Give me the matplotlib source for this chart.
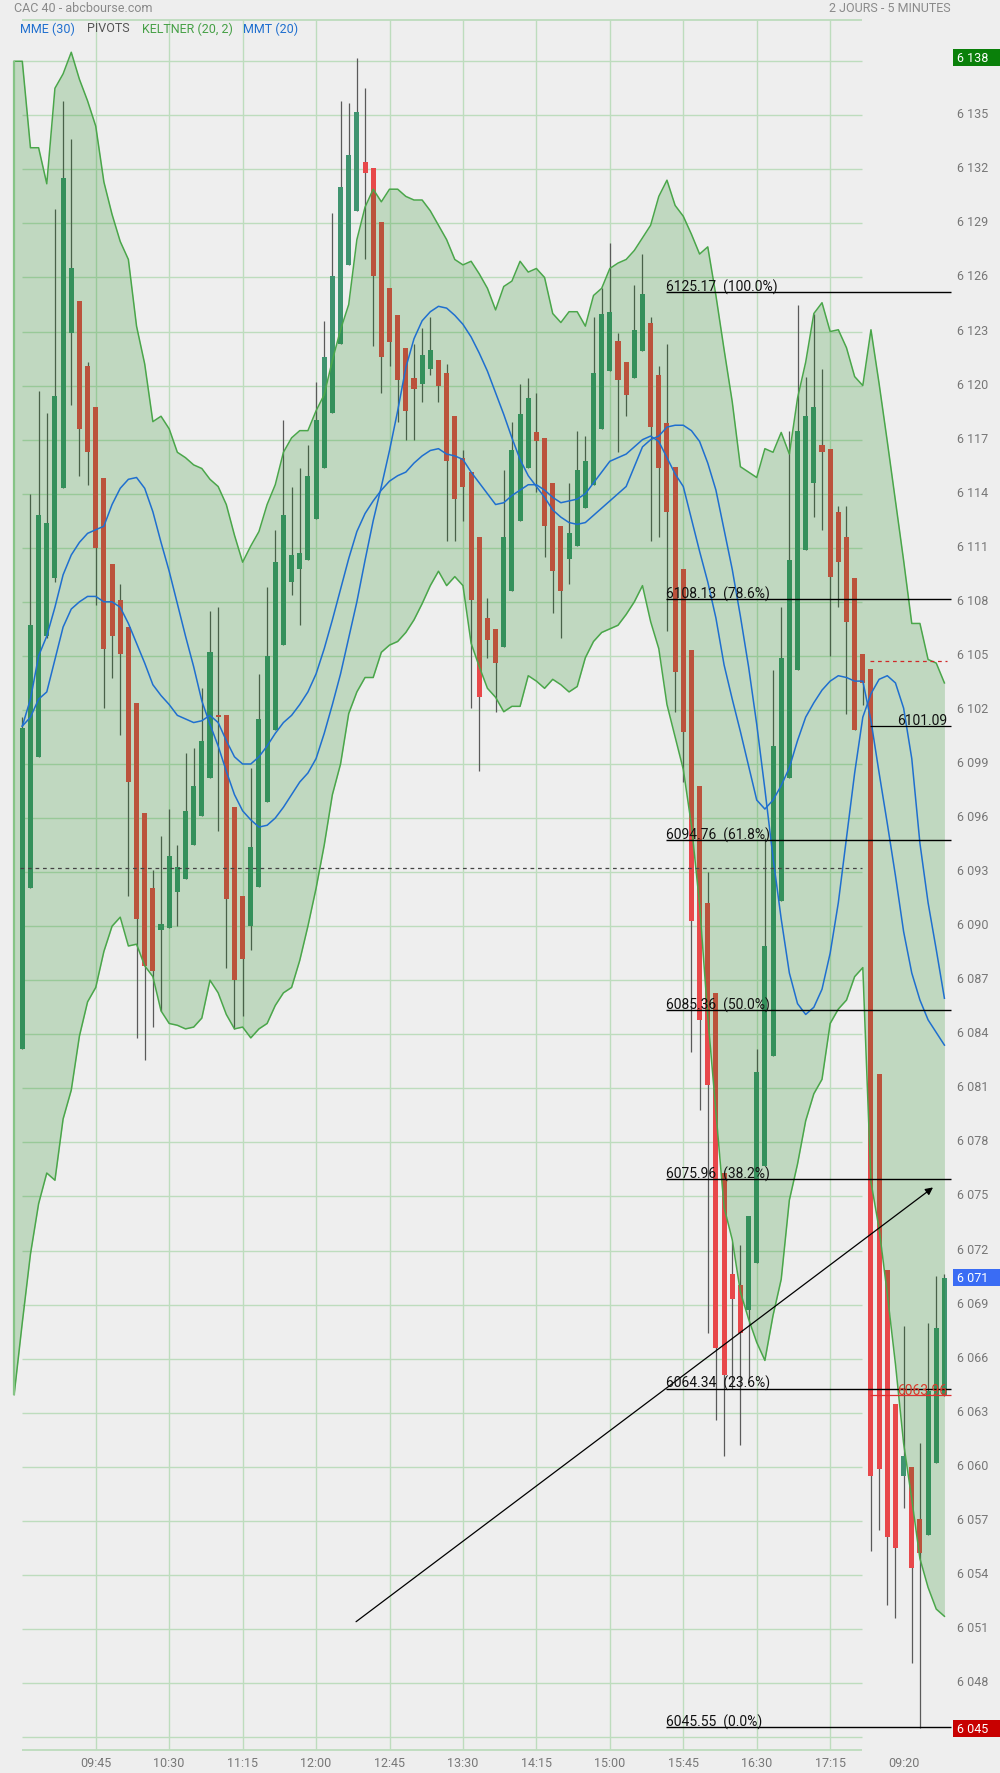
import numpy as np
import matplotlib
matplotlib.use("Agg")
import matplotlib.pyplot as plt
from matplotlib.patches import Rectangle
from matplotlib.transforms import blended_transform_factory, ScaledTranslation

plt.rcParams['font.family'] = ['Roboto', 'DejaVu Sans']
NARROW = ['Liberation Sans Narrow', 'Roboto', 'DejaVu Sans']

# bougies 5 minutes : jour 1 de 09:00 a 17:35, jour 2 de 09:00 a 09:45
opens = [6083.2, 6092.1, 6099.4, 6106.1, 6109.3, 6114.3, 6122.9, 6124.7, 6121.1, 6118.8,
         6114.9, 6110.1, 6108.1, 6106.6, 6102.4, 6096.3, 6092.1, 6089.8, 6089.9, 6091.9,
         6092.6, 6094.5, 6096.1, 6098.2, 6101.7, 6101.7, 6096.6, 6091.7, 6090.0, 6092.2,
         6096.9, 6100.9, 6105.6, 6109.1, 6109.8, 6110.3, 6112.6, 6115.4, 6118.5, 6122.3,
         6126.7, 6129.7, 6132.4, 6132.1, 6129.1, 6125.4, 6123.9, 6122.1, 6120.4, 6120.1,
         6120.9, 6121.4, 6120.7, 6118.3, 6116.0, 6115.2, 6111.6, 6107.1, 6106.5, 6105.5,
         6108.6, 6112.5, 6115.4, 6117.4, 6117.1, 6114.6, 6112.2, 6110.4, 6111.1, 6113.2,
         6114.5, 6117.6, 6120.8, 6122.5, 6121.3, 6120.4, 6121.9, 6123.5, 6120.6, 6117.9,
         6115.5, 6109.8, 6105.3, 6097.8, 6091.3, 6086.3, 6076.3, 6070.7, 6070.1, 6068.7,
         6071.3, 6076.7, 6082.8, 6091.4, 6098.2, 6104.2, 6110.9, 6114.6, 6116.7, 6116.5,
         6113.0, 6111.6, 6109.3, 6105.1, 6104.3, 6081.8, 6070.9, 6063.5, 6059.5, 6060.0,
         6057.1, 6056.2, 6060.2, 6063.9]
highs = [6101.6, 6114.0, 6119.7, 6118.5, 6129.8, 6135.8, 6133.7, 6124.7, 6121.3, 6118.8,
         6114.9, 6110.1, 6109.0, 6106.6, 6102.4, 6096.3, 6093.1, 6095.0, 6096.5, 6094.5,
         6099.6, 6099.9, 6103.2, 6107.5, 6107.7, 6101.7, 6096.6, 6091.7, 6098.8, 6104.0,
         6108.8, 6112.0, 6118.1, 6114.4, 6115.4, 6116.7, 6120.2, 6123.6, 6129.6, 6135.8,
         6135.7, 6138.2, 6136.5, 6132.1, 6129.1, 6125.4, 6123.9, 6122.1, 6122.3, 6123.2,
         6123.8, 6121.4, 6121.2, 6118.3, 6116.4, 6115.2, 6111.6, 6108.2, 6106.5, 6115.3,
         6118.0, 6120.1, 6120.4, 6119.6, 6117.1, 6114.6, 6112.2, 6114.6, 6117.5, 6117.2,
         6123.8, 6125.4, 6127.9, 6122.9, 6121.3, 6125.6, 6127.3, 6123.8, 6121.1, 6122.3,
         6115.5, 6109.8, 6105.3, 6097.8, 6093.0, 6086.3, 6076.3, 6072.5, 6072.3, 6073.9,
         6083.2, 6094.9, 6104.2, 6107.7, 6117.5, 6124.5, 6120.5, 6124.0, 6120.9, 6116.5,
         6113.3, 6113.3, 6109.3, 6105.1, 6104.3, 6081.8, 6070.9, 6063.5, 6067.8, 6060.0,
         6061.3, 6068.0, 6070.6, 6070.7]
lows = [6083.2, 6092.1, 6099.4, 6106.0, 6109.1, 6114.3, 6118.9, 6115.0, 6114.5, 6107.8,
        6102.1, 6103.8, 6100.6, 6091.7, 6083.8, 6082.6, 6084.4, 6085.3, 6089.9, 6090.0,
        6092.6, 6094.5, 6096.1, 6098.2, 6095.3, 6087.7, 6084.3, 6085.0, 6088.7, 6092.2,
        6096.9, 6100.9, 6105.6, 6108.4, 6106.7, 6110.3, 6112.6, 6115.4, 6118.5, 6122.3,
        6126.7, 6129.7, 6127.0, 6122.2, 6119.6, 6121.1, 6118.0, 6117.0, 6117.0, 6119.1,
        6120.6, 6119.1, 6111.4, 6111.4, 6112.5, 6102.1, 6098.6, 6104.9, 6101.9, 6105.5,
        6108.6, 6112.5, 6115.4, 6114.1, 6110.5, 6107.4, 6106.0, 6109.0, 6111.1, 6113.2,
        6114.5, 6117.6, 6120.8, 6116.3, 6118.3, 6120.4, 6121.9, 6111.4, 6111.6, 6106.4,
        6101.9, 6098.0, 6083.0, 6079.8, 6067.4, 6062.6, 6060.6, 6064.3, 6061.2, 6064.9,
        6071.3, 6076.7, 6082.8, 6091.4, 6098.2, 6104.2, 6110.9, 6112.7, 6112.0, 6105.0,
        6107.7, 6101.8, 6100.9, 6102.3, 6055.3, 6056.5, 6052.3, 6051.6, 6057.7, 6049.1,
        6045.5, 6056.2, 6060.2, 6063.9]
closes = [6101.0, 6106.7, 6112.8, 6112.4, 6119.4, 6131.5, 6126.5, 6117.6, 6116.3, 6111.0,
          6105.4, 6106.1, 6105.1, 6098.0, 6090.4, 6087.8, 6087.5, 6090.1, 6093.9, 6093.3,
          6096.4, 6097.8, 6100.3, 6105.2, 6101.6, 6091.5, 6087.0, 6088.2, 6094.4, 6101.5,
          6105.0, 6110.2, 6112.8, 6110.6, 6110.7, 6115.0, 6118.1, 6121.6, 6126.1, 6131.0,
          6132.8, 6135.2, 6131.8, 6126.1, 6121.6, 6122.4, 6120.3, 6118.6, 6119.8, 6121.7,
          6122.0, 6120.0, 6115.8, 6113.7, 6114.4, 6108.1, 6102.7, 6105.9, 6104.6, 6111.6,
          6116.4, 6118.4, 6119.3, 6116.9, 6112.2, 6109.7, 6108.6, 6111.8, 6115.3, 6115.8,
          6120.7, 6124.0, 6124.1, 6120.3, 6119.5, 6123.1, 6125.1, 6117.7, 6115.4, 6113.0,
          6104.1, 6100.8, 6090.3, 6084.8, 6081.2, 6066.6, 6065.1, 6069.3, 6067.4, 6073.9,
          6081.9, 6088.9, 6100.0, 6104.9, 6110.3, 6117.5, 6118.3, 6118.8, 6116.3, 6109.4,
          6110.2, 6106.9, 6100.9, 6103.5, 6059.5, 6059.9, 6056.1, 6055.5, 6060.6, 6054.4,
          6055.2, 6064.2, 6067.7, 6070.5]

# Keltner (20, 2) : le canal commence une bougie avant la premiere
kelt_up = [6138.0, 6138.0, 6133.2, 6133.2, 6131.2, 6136.5, 6137.3, 6138.5, 6137.0, 6135.8,
           6134.4, 6131.3, 6129.5, 6128.0, 6127.0, 6123.3, 6121.2, 6118.0, 6118.3, 6117.6,
           6116.3, 6116.0, 6115.6, 6115.4, 6114.8, 6114.4, 6113.4, 6111.7, 6110.2, 6111.1,
           6111.9, 6113.4, 6114.5, 6116.3, 6117.1, 6117.5, 6117.5, 6118.6, 6119.5, 6121.4,
           6123.1, 6124.5, 6128.1, 6129.9, 6130.9, 6130.2, 6130.9, 6130.9, 6130.5, 6130.3,
           6130.3, 6129.7, 6128.9, 6128.1, 6127.0, 6126.7, 6126.9, 6126.2, 6125.4, 6124.2,
           6125.5, 6125.8, 6126.9, 6126.3, 6126.5, 6126.0, 6124.0, 6123.5, 6124.1, 6124.1,
           6123.3, 6125.0, 6125.4, 6126.5, 6126.8, 6127.0, 6127.5, 6128.2, 6128.9, 6130.5,
           6131.4, 6130.0, 6129.4, 6128.4, 6127.3, 6127.7, 6125.0, 6122.0, 6119.1, 6115.5,
           6115.2, 6114.9, 6116.5, 6116.3, 6117.4, 6116.2, 6119.3, 6121.3, 6124.0, 6124.6,
           6123.0, 6123.1, 6122.1, 6120.5, 6120.0, 6123.1, 6120.1, 6116.9, 6113.6, 6110.3,
           6106.8, 6106.8, 6104.8, 6104.6, 6103.5]
kelt_dn = [6064.0, 6068.0, 6071.8, 6074.6, 6076.3, 6075.9, 6079.3, 6080.9, 6083.9, 6085.8,
           6086.6, 6088.6, 6090.0, 6090.5, 6088.9, 6089.0, 6087.8, 6087.2, 6085.3, 6084.6,
           6084.5, 6084.3, 6084.4, 6084.9, 6087.0, 6086.3, 6085.1, 6084.3, 6084.4, 6083.8,
           6084.3, 6084.6, 6085.6, 6086.3, 6086.6, 6088.1, 6090.0, 6092.1, 6094.5, 6097.3,
           6099.0, 6101.8, 6103.0, 6103.8, 6103.8, 6105.2, 6105.6, 6105.8, 6106.3, 6107.0,
           6107.9, 6108.9, 6109.7, 6108.9, 6109.4, 6108.9, 6105.7, 6104.4, 6103.2, 6102.7,
           6101.9, 6102.2, 6102.2, 6103.9, 6103.6, 6103.2, 6103.7, 6103.4, 6103.0, 6103.3,
           6104.9, 6105.8, 6106.3, 6106.5, 6106.7, 6107.3, 6108.0, 6108.9, 6106.9, 6105.4,
           6102.3, 6100.5, 6098.7, 6095.6, 6091.2, 6085.0, 6079.7, 6074.4, 6072.6, 6069.7,
           6068.2, 6066.9, 6065.9, 6068.4, 6070.4, 6074.8, 6076.8, 6079.2, 6080.7, 6081.5,
           6084.6, 6085.4, 6085.9, 6087.2, 6087.7, 6075.8, 6073.2, 6069.6, 6065.7, 6061.3,
           6058.2, 6054.9, 6053.3, 6052.1, 6051.7]

mmt20 = [6101.1, 6102.6, 6105.0, 6106.1, 6107.7, 6109.5, 6110.6, 6111.3, 6111.8, 6112.0,
         6112.2, 6113.4, 6114.3, 6114.8, 6114.9, 6114.3, 6113.0, 6111.3, 6109.7, 6107.9,
         6106.1, 6104.4, 6102.5, 6101.2, 6100.0, 6098.6, 6097.3, 6096.4, 6095.9, 6095.5,
         6095.6, 6096.0, 6096.6, 6097.3, 6098.0, 6098.5, 6099.3, 6100.7, 6102.3, 6104.0,
         6106.0, 6108.0, 6110.3, 6112.5, 6114.4, 6116.4, 6118.6, 6121.0, 6122.6, 6123.6,
         6124.1, 6124.4, 6124.3, 6123.9, 6123.4, 6122.7, 6121.8, 6120.8, 6119.6, 6118.4,
         6117.1, 6115.9, 6115.0, 6114.4, 6113.8, 6113.1, 6112.7, 6112.4, 6112.3, 6112.4,
         6112.8, 6113.2, 6113.6, 6114.0, 6114.4, 6115.5, 6116.6, 6117.0, 6117.2, 6117.7,
         6117.8, 6117.8, 6117.5, 6116.9, 6115.7, 6114.2, 6112.0, 6109.8, 6107.2, 6104.4,
         6101.2, 6097.6, 6093.8, 6090.4, 6087.4, 6085.7, 6085.1, 6085.5, 6086.5, 6088.5,
         6091.3, 6094.9, 6098.5, 6101.6, 6102.9, 6103.7, 6103.9, 6103.5, 6102.1, 6099.3,
         6094.6, 6091.3, 6088.7, 6086.0]
mme30 = [6101.1, 6101.6, 6102.6, 6103.0, 6104.8, 6106.6, 6107.6, 6108.0, 6108.3, 6108.3,
         6108.0, 6108.0, 6107.7, 6106.8, 6105.7, 6104.6, 6103.4, 6102.8, 6102.3, 6101.7,
         6101.5, 6101.3, 6101.4, 6101.7, 6101.3, 6100.3, 6099.4, 6099.0, 6099.0, 6099.4,
         6100.0, 6100.7, 6101.3, 6101.7, 6102.3, 6103.0, 6104.0, 6105.4, 6107.0, 6108.7,
         6110.4, 6111.9, 6112.9, 6113.6, 6114.2, 6114.7, 6115.0, 6115.2, 6115.7, 6116.1,
         6116.4, 6116.5, 6116.2, 6116.1, 6115.9, 6115.2, 6114.6, 6114.0, 6113.4, 6113.5,
         6113.9, 6114.2, 6114.5, 6114.5, 6114.2, 6113.8, 6113.5, 6113.6, 6113.7, 6114.0,
         6114.6, 6115.2, 6115.8, 6116.0, 6116.2, 6116.6, 6117.0, 6117.2, 6116.9, 6116.0,
         6115.1, 6114.4, 6112.6, 6110.8, 6109.1, 6107.1, 6104.5, 6102.6, 6100.8, 6098.9,
         6097.0, 6096.5, 6097.0, 6097.8, 6098.8, 6100.3, 6101.6, 6102.4, 6103.1, 6103.6,
         6103.9, 6103.8, 6103.6, 6103.6, 6101.4, 6098.5, 6095.7, 6092.8, 6089.7, 6087.4,
         6085.9, 6084.8, 6084.1, 6083.4]

fib_levels = [6125.17, 6108.13, 6094.76, 6085.36, 6075.96, 6064.34, 6045.55]
fib_pcts = ["100.0%", "78.6%", "61.8%", "50.0%", "38.2%", "23.6%", "0.0%"]
pivot_j1 = 6093.24
pivot_j2 = 6104.7
niveau_noir = 6101.09
niveau_rouge = 6063.96
trend_from = (40.9, 6051.4)
trend_to = (111.6, 6075.5)

# etiquettes en couleur sur l'axe des prix : plus haut, dernier, plus bas
box_values = [6138.2, 6070.5, 6045.5]
box_labels = ["6 138", "6 071", "6 045"]
box_colors = ['#0a800a', '#3a6cf4', '#c80000']

time_ticks = [9, 18, 27, 36, 45, 54, 63, 72, 81, 90, 99, 108]
time_labels = ["09:45", "10:30", "11:15", "12:00", "12:45", "13:30", "14:15",
               "15:00", "15:45", "16:30", "17:15", "09:20"]

BG = '#eeeeee'
GRID = '#bddcbd'
GREEN = '#3f9470'
RED = '#e8474a'
WICK = '#5a5a5a'
KELT = '#4aa64a'
BLUE = '#1f6fcf'
GRAY = '#777777'

W, H = 1000, 1774
fig = plt.figure(figsize=(W / 100, H / 100), dpi=100, facecolor=BG)
ax = fig.add_axes([10 / W, 23 / H, 942 / W, 1730 / H])
ax.set_facecolor('none')
ax.set_xlim(-1.507, 113.93)
ax.set_ylim(6044.28, 6140.29)
for s in ax.spines.values():
    s.set_visible(False)

# grille
ygrid = np.arange(6045, 6139, 3)
ax.hlines(ygrid, -0.05, 102.9, color=GRID, lw=1, zorder=1)
ax.hlines(ax.get_ylim(), -0.05, 102.9, color=GRID, lw=1.3, zorder=1, clip_on=False)
ax.vlines(time_ticks[:-1], *ax.get_ylim(), color=GRID, lw=1, zorder=1)

# bougies
o, h, l, c = (np.array(v) for v in (opens, highs, lows, closes))
x = np.arange(len(o))
up = c >= o
ax.vlines(x, l, h, color=WICK, lw=0.9, zorder=2)
ax.bar(x, np.maximum(np.abs(c - o), 0.12), bottom=np.minimum(o, c), width=0.62,
       color=np.where(up, GREEN, RED), linewidth=0, zorder=2.5)

# canal de Keltner
xb = np.arange(-1, len(o))
ax.fill_between(xb, kelt_dn, kelt_up, color='#088008', alpha=0.2, lw=0, zorder=3)
ax.plot(xb, kelt_up, color=KELT, lw=1.1, zorder=4)
ax.plot(xb, kelt_dn, color=KELT, lw=1.1, zorder=4)
ax.vlines(-1, kelt_dn[0], kelt_up[0], color='#86c486', lw=1.6, zorder=4)

# moyennes mobiles
ax.plot(x, mmt20, color=BLUE, lw=1.1, zorder=5)
ax.plot(x, mme30, color=BLUE, lw=1.1, zorder=5)

# pivots
ax.hlines(pivot_j1, -0.3, 102.9, color='#444444', lw=0.9, linestyles=(0, (3, 3)), zorder=5)
ax.hlines(pivot_j2, 103.9, 113.3, color='#d02828', lw=0.9, linestyles=(0, (3, 3)), zorder=5)

# Fibonacci
fx0, fx1 = 78.9, 113.8
ax.hlines(fib_levels, fx0, fx1, color='black', lw=1, zorder=6)
for lv, pc in zip(fib_levels, fib_pcts):
    ax.text(fx0, lv + 0.09, f"{lv:.2f}  ({pc})", fontsize=10, family=NARROW,
            color='#111111', ha='left', va='baseline', zorder=7)

ax.hlines(niveau_noir, 103.9, fx1, color='black', lw=0.9, zorder=6)
ax.text(113.35, niveau_noir + 0.12, f"{niveau_noir:.2f}", fontsize=10, family=NARROW,
        color='#111111', ha='right', va='baseline', zorder=7)
ax.hlines(niveau_rouge, 103.9, fx1, color='#e03030', lw=0.9, zorder=6)
ax.text(113.35, niveau_rouge + 0.06, f"{niveau_rouge:.2f}", fontsize=10, family=NARROW,
        color='#d83a2a', ha='right', va='baseline', zorder=7)

ax.annotate('', xy=trend_to, xytext=trend_from,
            arrowprops=dict(arrowstyle='-|>', color='black', lw=0.9, mutation_scale=11,
                            shrinkA=0, shrinkB=0), zorder=6)

# axes
def fmt(v):
    v = int(round(v))
    return f"{v // 1000} {v % 1000:03d}"

yt = np.arange(6048, 6136, 3)
ax.yaxis.tick_right()
ax.set_yticks(yt)
ax.set_yticklabels([fmt(v) for v in yt])
ax.tick_params(axis='y', length=0, pad=3.6, labelsize=9, labelcolor=GRAY)
shift = ScaledTranslation(0, 0.03, fig.dpi_scale_trans)
for t in ax.get_yticklabels():
    t.set_transform(t.get_transform() + shift)

ax.set_xticks(time_ticks)
ax.set_xticklabels(time_labels)
ax.tick_params(axis='x', length=0, pad=4.5, labelsize=9, labelcolor=GRAY)

bt = blended_transform_factory(fig.transFigure, ax.transData)
hh = 17 / 18.02
for p, lab, fc in zip(box_values, box_labels, box_colors):
    ax.add_patch(Rectangle((0.953, p - hh / 2), 0.047, hh, transform=bt, facecolor=fc,
                           edgecolor='none', clip_on=False, zorder=8))
    ax.text(0.957, p, lab, transform=bt, color='white', fontsize=9, ha='left',
            va='center', clip_on=False, zorder=9)

# en-tete
fig.text(14 / W, 1 - 8.5 / H, "CAC 40 - abcbourse.com", color='#8a8a8a', fontsize=9,
         ha='left', va='center')
fig.text(951 / W, 1 - 8.5 / H, "2 JOURS - 5 MINUTES", color='#8a8a8a', fontsize=9,
         ha='right', va='center')
for xx, txt, col in [(19.5, "MME (30)", '#1f6fcf'), (86.5, "PIVOTS", '#555555'),
                     (142, "KELTNER (20, 2)", '#46a046'), (243, "MMT (20)", '#1f6fcf')]:
    fig.text(xx / W, 1 - 29 / H, txt, color=col, fontsize=9, ha='left', va='center')

fig.savefig('out.png', dpi=100, facecolor=BG)
